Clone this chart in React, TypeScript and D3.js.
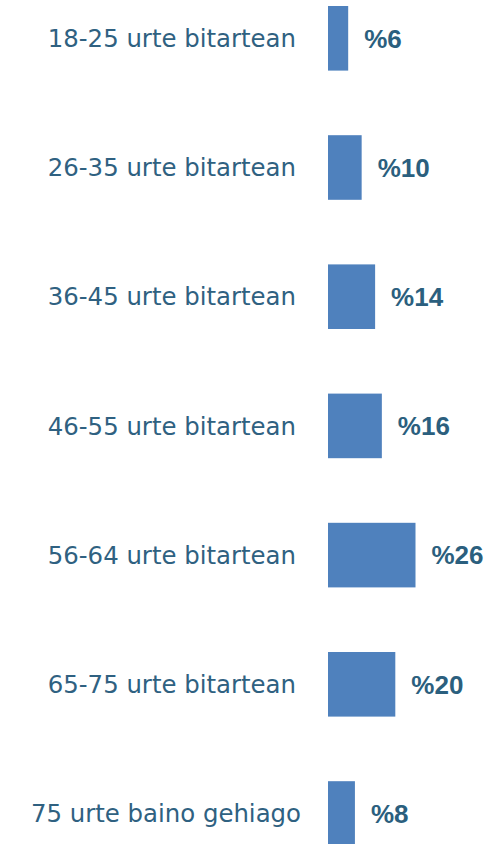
import React from "react";
import * as d3 from "d3";

const categories = [
  "18-25 urte bitartean",
  "26-35 urte bitartean",
  "36-45 urte bitartean",
  "46-55 urte bitartean",
  "56-64 urte bitartean",
  "65-75 urte bitartean",
  "75 urte baino gehiago",
];
const values = [6, 10, 14, 16, 26, 20, 8];
const valueLabels = ["%6", "%10", "%14", "%16", "%26", "%20", "%8"];

const W = 488;
const H = 844;

export default function App() {
  const x = d3.scaleLinear().domain([0, 26]).range([328, 415.5]);
  const y = d3
    .scaleBand<string>()
    .domain(categories)
    .range([-26.3, 878.1])
    .paddingInner(0.5)
    .paddingOuter(0.25);
  const bw = y.bandwidth();
  return (
    <svg
      width={W}
      height={H}
      style={{ position: "absolute", left: 0, top: 0 }}
    >
      <rect width={W} height={H} fill="#ffffff" />
      {categories.map((c, i) => {
        const y0 = y(c)!;
        const cy = y0 + bw / 2;
        return (
          <g key={c}>
            <text
              x={i === categories.length - 1 ? 301 : 296}
              y={cy}
              dy="0.36em"
              textAnchor="end"
              fontSize={24.4}
              fontFamily="'DejaVu Sans', sans-serif"
              fill="#2f6181"
            >
              {c}
            </text>
            <rect
              x={x(0)}
              y={y0}
              width={x(values[i]) - x(0)}
              height={bw}
              fill="#4f81bd"
            />
            <text
              x={x(values[i]) + 16}
              y={cy}
              dy="0.36em"
              fontSize={26}
              fontWeight="bold"
              fontFamily="'Liberation Sans', Arial, sans-serif"
              fill="#2b5f7e"
            >
              {valueLabels[i]}
            </text>
          </g>
        );
      })}
    </svg>
  );
}
